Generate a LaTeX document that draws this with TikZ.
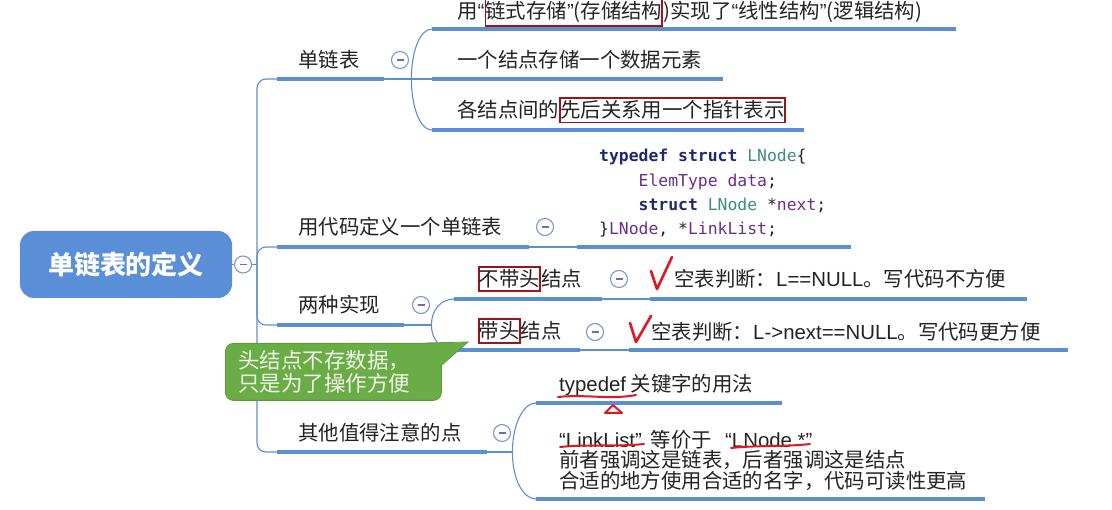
\documentclass[tikz,border=0pt]{standalone}
\usepackage{fontspec}
\newfontfamily\cjk{Noto Sans CJK SC}
\newfontfamily\latin{Liberation Sans}
\newfontfamily\codefont{DejaVu Sans Mono}
\usetikzlibrary{calc}

\definecolor{barblue}{RGB}{91,143,211}
\definecolor{rootblue}{RGB}{90,142,214}
\definecolor{foldblue}{RGB}{122,152,212}
\definecolor{foldminus}{RGB}{112,108,168}
\definecolor{textgray}{RGB}{35,35,35}
\definecolor{boxred}{RGB}{158,18,24}
\definecolor{inkred}{RGB}{226,22,32}
\definecolor{tipgreen}{RGB}{106,172,69}
\definecolor{tipedge}{RGB}{92,152,60}
\definecolor{tiptext}{RGB}{240,246,234}
\definecolor{kwnavy}{RGB}{30,40,112}
\definecolor{tyteal}{RGB}{62,140,124}
\definecolor{vrpurple}{RGB}{108,44,140}

\newcommand\kw[1]{\textcolor{kwnavy}{\bfseries #1}}
\newcommand\ty[1]{\textcolor{tyteal}{#1}}
\newcommand\vr[1]{\textcolor{vrpurple}{#1}}
\newcommand\eng[1]{{\latin #1}}

\tikzset{
  topic/.style={anchor=west, inner sep=0pt, text=textgray, font=\cjk\fontsize{20.4}{20.5}\selectfont},
  after/.style={topic, anchor=base west},
  boxed/.style={draw=boxred, line width=1.8pt, inner xsep=0pt, inner ysep=3pt},
  bar/.style={anchor=west, fill=barblue, inner sep=0pt, minimum height=4.5pt},
  link/.style={draw=barblue, line width=1.1pt},
  fold/.style={circle, draw=foldblue, fill=white, line width=1.1pt, minimum size=17pt, inner sep=0pt,
    path picture={\draw[foldminus, line width=1.2pt] ([xshift=-3.5pt]path picture bounding box.center) -- ([xshift=3.5pt]path picture bounding box.center);}},
  root/.style={rounded corners=14pt, fill=rootblue, minimum width=212pt, minimum height=67pt, inner sep=0pt,
    text=white, font=\cjk\bfseries\fontsize{26}{30}\selectfont},
  tipbox/.style={anchor=north west, fill=tipgreen, draw=tipedge, line width=0.8pt, rounded corners=8pt,
    minimum height=57pt, text width=190pt, inner xsep=13pt, align=left, text=tiptext,
    font=\cjk\fontsize{21.5}{23}\selectfont},
  codebox/.style={anchor=west, inner sep=0pt, align=left, text=textgray,
    font=\codefont\fontsize{16.4}{24.3}\selectfont},
  ink/.style={draw=inkred, line width=2pt, line cap=round, line join=round},
}

\begin{document}
\begin{tikzpicture}[x=1pt, y=-1pt]
  \useasboundingbox (0,0) rectangle (1112,510);

  \node[root] at (126,264.5) (root) {单链表的定义};

  \node[bar, minimum width=107pt] at (277,79) (b-sll) {};
  \node[bar, minimum width=524pt] at (432,29) (b-sll-a) {};
  \node[bar, minimum width=291pt] at (432,79) (b-sll-b) {};
  \node[bar, minimum width=372pt] at (432,130) (b-sll-c) {};
  \node[bar, minimum width=252pt] at (277,247) (b-def) {};
  \node[bar, minimum width=274pt] at (577,247) (b-code) {};
  \node[bar, minimum width=127pt] at (277,325) (b-impl) {};
  \node[bar, minimum width=148pt] at (454,299) (b-nohead) {};
  \node[bar, minimum width=377pt] at (650,299) (b-nohead-c) {};
  \node[bar, minimum width=126pt] at (454,350) (b-head) {};
  \node[bar, minimum width=439pt] at (629,350) (b-head-c) {};
  \node[bar, minimum width=210pt] at (277,452) (b-note) {};
  \node[bar, minimum width=246pt] at (536,403) (b-note-a) {};
  \node[bar, minimum width=449pt] at (536,499) (b-note-b) {};

  \draw[link] (root.east) -- (257,264.5) coordinate (hub);
  \draw[link, rounded corners=9pt] (b-sll.west) -| (hub) |- (b-note.west);
  \draw[link, rounded corners=9pt] (hub) |- (b-def.west);
  \draw[link, rounded corners=9pt] (hub) |- (b-impl.west);

  \draw[link] (b-sll.east) -- ++(27,0) coordinate (sll-fork) -- (b-sll-b.west);
  \draw[link] (sll-fork) .. controls +(0,-28) and +(-12,0) .. (b-sll-a.west);
  \draw[link] (sll-fork) .. controls +(0,28) and +(-12,0) .. (b-sll-c.west);
  \draw[link] (b-def.east) -- (b-code.west);
  \draw[link] (b-impl.east) -- ++(27,0) coordinate (impl-fork);
  \draw[link] (impl-fork) .. controls +(0,-15) and +(-13,0) .. (b-nohead.west);
  \draw[link] (impl-fork) .. controls +(0,15) and +(-13,0) .. (b-head.west);
  \draw[link] (b-nohead.east) -- (b-nohead-c.west);
  \draw[link] (b-head.east) -- (b-head-c.west);
  \draw[link] (b-note.east) -- ++(25,0) coordinate (note-fork);
  \draw[link] (note-fork) .. controls +(0,-27) and +(-13,0) .. (b-note-a.west);
  \draw[link] (note-fork) .. controls +(0,27) and +(-13,0) .. (b-note-b.west);

  \node[fold] at (243,264.5) (f-root) {};
  \node[fold] at (400,60) (f-sll) {};
  \node[fold] at (545,227) (f-def) {};
  \node[fold] at (421,305) (f-impl) {};
  \node[fold] at (619,279) (f-nohead) {};
  \node[fold] at (595,332) (f-head) {};
  \node[fold] at (502,433) (f-note) {};

  \node[topic] at (298,60) (sll) {单链表};
  \node[topic] at (457,12) (sll-a) {用\eng{“}};
  \node[after, boxed] at (sll-a.base east) (sll-a-hl) {链式存储\eng{”}(存储结构};
  \node[after] at (sll-a-hl.base east) (sll-a-end) {)实现了\eng{“}线性结构\eng{”}(逻辑结构)};
  \node[topic] at (457,60) (sll-b) {一个结点存储一个数据元素};
  \node[topic] at (457,110) (sll-c) {各结点间的};
  \node[after, boxed] at (sll-c.base east) (sll-c-hl) {先后关系用一个指针表示};
  \node[topic] at (298,227) (def) {用代码定义一个单链表};
  \node[codebox] at (599,193.5) (code) {\kw{typedef} \kw{struct} \ty{LNode}\{\\
    \phantom{0000}\vr{ElemType} \vr{data};\\
    \phantom{0000}\kw{struct} \ty{LNode} *\vr{next};\\
    \}\vr{LNode}, *\vr{LinkList};};
  \node[topic] at (298,305) (impl) {两种实现};
  \node[topic, boxed] at (478,279) (nohead) {不带头};
  \node[after] at (nohead.base east) (nohead-end) {结点};
  \node[topic] at (674,279) (nohead-c) {空表判断：\eng{L==NULL}。写代码不方便};
  \node[topic, boxed] at (478,331) (head) {带头};
  \node[after] at (head.base east) (head-end) {结点};
  \node[topic] at (651,332) (head-c) {空表判断：\eng{L->next==NULL}。写代码更方便};
  \node[topic] at (298,433) (note) {其他值得注意的点};
  \node[topic] at (559,385) (note-a) {\eng{typedef} 关键字的用法};
  \node[topic, align=left] at (559,460) (note-b) {\eng{“LinkList”}\hspace{9pt}等价于\hspace{13pt}\eng{“LNode *”}\\
    前者强调这是链表，后者强调这是结点\\
    合适的地方使用合适的名字，代码可读性更高};

  \draw[ink, line width=2.6pt] (651,271) -- (657,289) -- (672,257);
  \draw[ink, line width=2.6pt] (630,323) -- (636,342) -- (651,316);
  \draw[ink] (558,397) .. controls (585,394) and (610,400) .. (636,395);
  \draw[ink] (605,413) -- (613,405) -- (622,413) -- cycle;
  \draw[ink] (560,447) .. controls (590,444) and (615,447) .. (644,444);
  \draw[ink] (731,448) .. controls (760,445) and (785,447) .. (810,444);

  \node[tipbox] at (225,343) (tip) {头结点不存数据，\\只是为了操作方便};
  \fill[tipgreen] (426,343.6) -- (468,342) -- (439.2,367) -- (432,350) -- cycle;
  \draw[tipedge, line width=0.8pt] (426,343) -- (468,342) -- (439.6,367);
\end{tikzpicture}
\end{document}
